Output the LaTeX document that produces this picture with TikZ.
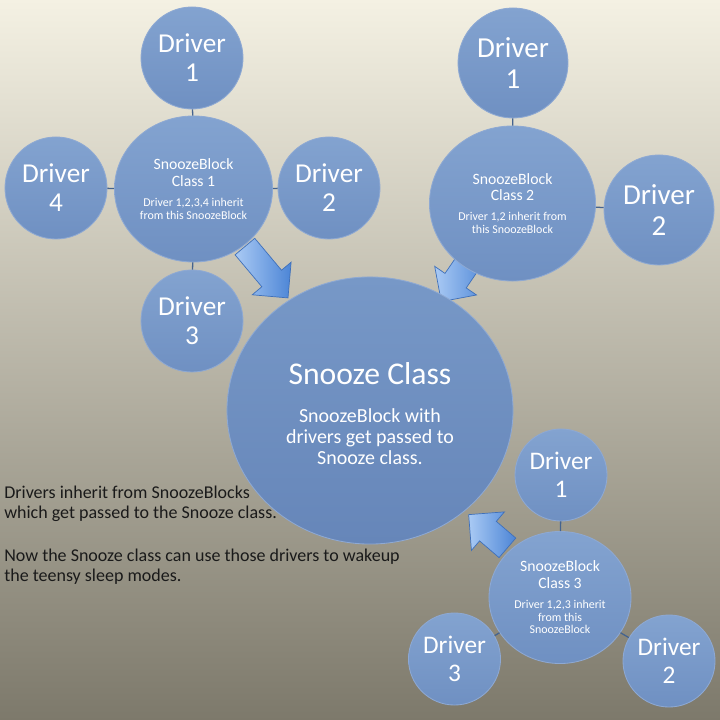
\documentclass[tikz,border=0pt]{standalone}
\usepackage{fontspec}
\setmainfont{Carlito}
\usetikzlibrary{shapes.geometric,shapes.arrows}
\definecolor{bgtop}{HTML}{F4F1E3}
\definecolor{bgbot}{HTML}{7D796B}
\definecolor{ballhi}{HTML}{83A3D0}
\definecolor{balllo}{HTML}{6F90C2}
\definecolor{hubhi}{HTML}{7798C7}
\definecolor{hublo}{HTML}{6686B9}
\definecolor{rimblue}{HTML}{8EA9D3}
\definecolor{linkblue}{HTML}{44638F}
\definecolor{arrowhi}{HTML}{AACAF4}
\definecolor{arrowlo}{HTML}{4C85D6}
\definecolor{arrowedge}{HTML}{3F70BA}
\definecolor{ink}{HTML}{1A1A1A}
\tikzset{
  ball/.style={inner sep=0pt,top color=ballhi,bottom color=balllo,draw=rimblue,line width=0.6pt,text=white,align=center},
  driver/.style={ball,circle,minimum size=2.55cm,font=\fontsize{19.4}{20.6}\selectfont},
  driverbig/.style={ball,circle,minimum size=2.75cm,font=\fontsize{20.6}{22}\selectfont},
  driversmall/.style={ball,circle,minimum size=2.3cm,font=\fontsize{18}{19.6}\selectfont},
  block/.style={ball,ellipse,font=\fontsize{11.2}{11.9}\selectfont},
  hub/.style={ball,ellipse,top color=hubhi,bottom color=hublo,minimum width=7.15cm,minimum height=6.675cm,font=\fontsize{14.2}{15}\selectfont},
  link/.style={draw=linkblue,line width=0.9pt},
  push/.style={single arrow,single arrow tip angle=90,single arrow head extend=0.3125cm,single arrow head indent=0pt,inner xsep=0pt,inner ysep=0.3125cm,minimum height=1.675cm,left color=arrowhi,right color=arrowlo,draw=arrowedge,line width=0.5pt},
  note/.style={text=ink,align=left,inner sep=0pt,font=\fontsize{12.8}{14.2}\selectfont}
}
\newcommand{\sbsmall}{\fontsize{8.5}{9}\selectfont}
\newcommand{\hubtitle}{\fontsize{22.5}{24}\selectfont}

\begin{document}
\begin{tikzpicture}[x=0.025cm,y=-0.025cm]
  \shade[top color=bgtop,bottom color=bgbot] (0,0) rectangle (720,720);
  \useasboundingbox (0,0) rectangle (720,720);

  \node[push,rotate=-50,anchor=tip] (pushA) at (288.3,298.3) {};
  \node[push,rotate=-124.4,anchor=tip] (pushB) at (441,302) {};
  \node[push,rotate=139.4,anchor=tip,minimum height=1.275cm] (pushC) at (468.3,514.3) {};

  \node[hub] (snooze) at (370,410.5) {\hubtitle\rule{0pt}{20pt}Snooze Class\\[12pt]SnoozeBlock with\\drivers get passed to\\Snooze class.};

  \node[block,minimum width=3.95cm,minimum height=3.65cm] (sbA) at (193.5,189) {SnoozeBlock\\Class 1\\[2.3pt]\sbsmall Driver 1,2,3,4 inherit\\[-2.9pt]\sbsmall from this SnoozeBlock};
  \node[driver] (dA1) at (192,58) {Driver\\1};
  \node[driver] (dA2) at (329,188) {Driver\\2};
  \node[driver] (dA3) at (192,321) {Driver\\3};
  \node[driver] (dA4) at (56,188) {Driver\\4};
  \draw[link] (dA1) -- (sbA);
  \draw[link] (dA2) -- (sbA);
  \draw[link] (dA3) -- (sbA);
  \draw[link] (dA4) -- (sbA);

  \node[block,minimum width=4.15cm,minimum height=3.875cm] (sbB) at (512.5,203.5) {SnoozeBlock\\Class 2\\[2.3pt]\sbsmall Driver 1,2 inherit from\\[-2.9pt]\sbsmall this SnoozeBlock};
  \node[driverbig] (dB1) at (513,63) {Driver\\1};
  \node[driverbig] (dB2) at (659,210) {Driver\\2};
  \draw[link] (dB1) -- (sbB);
  \draw[link] (dB2) -- (sbB);

  \node[block,minimum width=3.55cm,minimum height=3.3cm] (sbC) at (560,597.5) {SnoozeBlock\\Class 3\\[2.3pt]\sbsmall Driver 1,2,3 inherit\\[-2.9pt]\sbsmall from this\\[-2.9pt]\sbsmall SnoozeBlock};
  \node[driversmall] (dC1) at (561,475) {Driver\\1};
  \node[driversmall] (dC2) at (669,661) {Driver\\2};
  \node[driversmall] (dC3) at (454.5,659) {Driver\\3};
  \draw[link] (dC1) -- (sbC);
  \draw[link] (dC2) -- (sbC);
  \draw[link] (dC3) -- (sbC);

  \node[note,anchor=north west] (info) at (4,485.5) {Drivers inherit from SnoozeBlocks\\which get passed to the Snooze class.\\[16.7pt]Now the Snooze class can use those drivers to wakeup\\the teensy sleep modes.};
\end{tikzpicture}
\end{document}
